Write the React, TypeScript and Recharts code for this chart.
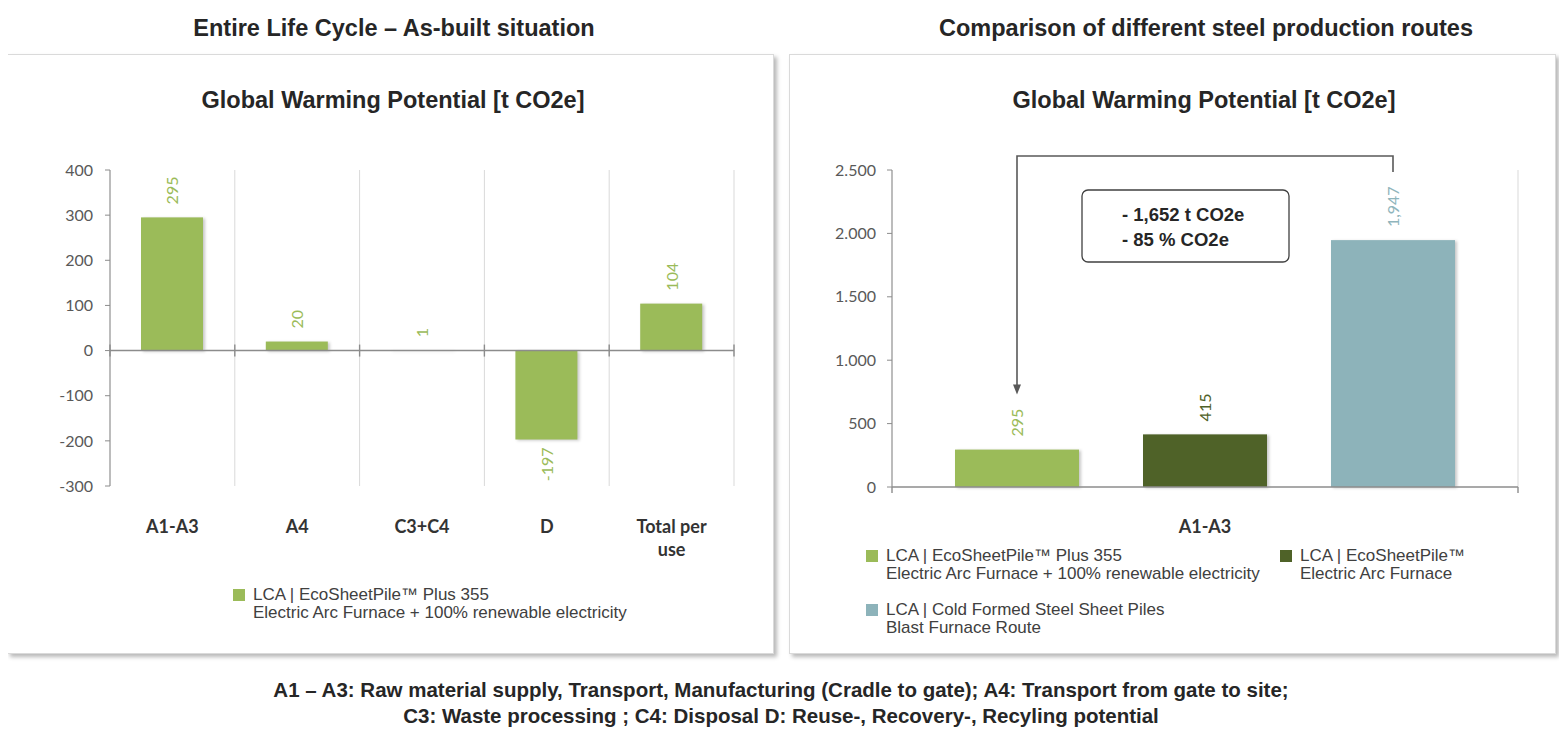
import React from "react";
import {
  BarChart,
  Bar,
  XAxis,
  YAxis,
  CartesianGrid,
  ReferenceLine,
  Customized,
} from "recharts";

// left chart: entire life cycle
const stages = ["A1-A3", "A4", "C3+C4", "D", "Total per use"];
const stageValues = [295, 20, 1, -197, 104];
const stageTicks = [-300, -200, -100, 0, 100, 200, 300, 400];

// right chart: steel production routes
const routeCategories = ["A1-A3"];
const ecoPlusValues = [295];
const ecoValues = [415];
const coldFormedValues = [1947];
const routeTicks = [0, 500, 1000, 1500, 2000, 2500];
const savingLines = ["- 1,652 t CO2e", "- 85 % CO2e"];

const routeSeries = [
  { key: "ecoPlus", values: ecoPlusValues, color: "#9BBB59", labelColor: "#9BBB59", title: "LCA | EcoSheetPile™ Plus 355", sub: "Electric Arc Furnace + 100% renewable electricity" },
  { key: "eco", values: ecoValues, color: "#4F6228", labelColor: "#4F6228", title: "LCA | EcoSheetPile™", sub: "Electric Arc Furnace" },
  { key: "cold", values: coldFormedValues, color: "#8DB3BA", labelColor: "#8FB5BC", title: "LCA | Cold Formed Steel Sheet Piles", sub: "Blast Furnace Route" },
];

const GREEN = "#9BBB59";
const AXIS = "#8c8c8c";
const GRID = "#d9d9d9";
const NARROW = "'Liberation Sans Narrow', 'Liberation Sans', Arial, sans-serif";
const SANS = "'Liberation Sans', Arial, sans-serif";
const LABEL_FONT = "Lato, 'Open Sans', sans-serif";

const stageRows = stages.map((name, i) => ({ name, value: stageValues[i] }));
const routeRows = routeCategories.map((name, i) => {
  const row: Record<string, string | number> = { name };
  routeSeries.forEach((s) => (row[s.key] = s.values[i]));
  return row;
});

const dotThousands = (v: number) =>
  Math.abs(v) >= 1000 ? `${Math.floor(v / 1000)}.${String(v % 1000).padStart(3, "0")}` : String(v);
const commaThousands = (v: number) =>
  Math.abs(v) >= 1000 ? `${Math.floor(v / 1000)},${String(v % 1000).padStart(3, "0")}` : String(v);

// chart geometry (both charts live in a 767x600 panel)
const L = { w: 768, h: 600, margin: { top: 116, right: 41, bottom: 108, left: 43 }, yW: 60, xH: 60 };
const R = { w: 767, h: 600, margin: { top: 116, right: 38, bottom: 117, left: 43 }, yW: 60, xH: 50 };
const plotOf = (c: typeof L) => ({
  left: c.margin.left + c.yW,
  top: c.margin.top,
  width: c.w - c.margin.left - c.yW - c.margin.right,
  height: c.h - c.margin.top - c.margin.bottom - c.xH,
});
const lPlot = plotOf(L);
const rPlot = plotOf(R);
const R_BAR = 124;
const R_GAP = 64;

const boundaries = (p: { left: number; width: number }, n: number) =>
  Array.from({ length: n + 1 }, (_, i) => p.left + (i * p.width) / n);

// short tick marks where the category boundaries cross the zero line
const BoundaryTicks = ({ xs, y, up, down }: { xs: number[]; y: number; up: number; down: number }) => (
  <g>
    {xs.map((x, i) => (
      <line key={i} x1={x} x2={x} y1={y - up} y2={y + down} stroke={AXIS} strokeWidth={1.4} />
    ))}
  </g>
);

const ShadowBar = (p: any) => {
  const top = Math.min(p.y, p.y + p.height);
  const h = Math.abs(p.height);
  return (
    <rect
      x={p.x}
      y={top}
      width={p.width}
      height={h}
      fill={p.fill}
      style={{ filter: "drop-shadow(2px 1px 1.5px rgba(0,0,0,0.22))" }}
    />
  );
};

const vLabel = (color: string, fmt: (v: number) => string) => (p: any) => {
  const { x, y, width, height, value } = p;
  const top = Math.min(y, y + height);
  const bottom = Math.max(y, y + height);
  const cx = x + width / 2;
  const neg = value < 0;
  const ay = neg ? bottom + 8 : top - 13;
  return (
    <text
      x={cx}
      y={ay}
      transform={`rotate(-90 ${cx} ${ay})`}
      textAnchor={neg ? "end" : "start"}
      dominantBaseline="central"
      fill={color}
      fontSize={16}
      fontFamily={LABEL_FONT}
    >
      {fmt(value)}
    </text>
  );
};

const wrapWords = (s: string, max: number) => {
  const out: string[] = [];
  s.split(" ").forEach((w) => {
    const last = out[out.length - 1];
    if (last && (last + " " + w).length <= max) out[out.length - 1] = last + " " + w;
    else out.push(w);
  });
  return out;
};

const CategoryTick = (dy: number) => (p: any) => {
  const { x, y, payload } = p;
  const lines = wrapWords(String(payload.value), 9);
  return (
    <text x={x} y={y + dy} textAnchor="middle" fontFamily={LABEL_FONT} fontWeight={700} fontSize={18} fill="#333">
      {lines.map((l, i) => (
        <tspan key={i} x={x} dy={i === 0 ? 0 : 23}>
          {l}
        </tspan>
      ))}
    </text>
  );
};

const yTick = { fontSize: 16, fill: "#595959", fontFamily: LABEL_FONT };

// bracket + saving box for the route comparison
const Bracket = () => {
  const sum = routeSeries.length * R_BAR + (routeSeries.length - 1) * R_GAP;
  const start = rPlot.left + Math.floor((rPlot.width - sum) / 2);
  const cx = (i: number) => start + i * (R_BAR + R_GAP) + R_BAR / 2;
  const yPix = (v: number) => rPlot.top + rPlot.height * (1 - v / 2500);
  const x0 = cx(0);
  const x2 = cx(routeSeries.length - 1);
  const topY = rPlot.top - 14;
  const tipY = yPix(ecoPlusValues[0]) - 55;
  const endY = yPix(coldFormedValues[0]) - 68;
  const box = { x: rPlot.left + 190, y: rPlot.top + 20, w: 207, h: 72 };
  return (
    <g>
      <path
        d={`M${x0},${tipY - 8} L${x0},${topY} L${x2},${topY} L${x2},${endY}`}
        fill="none"
        stroke="#595959"
        strokeWidth={1.6}
      />
      <polygon points={`${x0 - 4},${tipY - 10} ${x0 + 4},${tipY - 10} ${x0},${tipY}`} fill="#595959" />
      <rect x={box.x} y={box.y} width={box.w} height={box.h} rx={6} fill="#fff" stroke="#404040" strokeWidth={1.3} />
      {savingLines.map((t, i) => (
        <text
          key={i}
          x={box.x + 40}
          y={box.y + 24 + i * 25}
          dominantBaseline="central"
          fontFamily={SANS}
          fontWeight={700}
          fontSize={18.5}
          fill="#262626"
        >
          {t}
        </text>
      ))}
    </g>
  );
};

const LegendItem = ({ x, y, color, title, sub }: { x: number; y: number; color: string; title: string; sub: string }) => (
  <div style={{ position: "absolute", left: x, top: y, display: "flex", fontFamily: NARROW, fontSize: 17, color: "#404040", lineHeight: "18px" }}>
    <div style={{ width: 12, height: 12, background: color, marginTop: 3, marginRight: 8 }} />
    <div style={{ whiteSpace: "nowrap" }}>
      <div>{title}</div>
      <div>{sub}</div>
    </div>
  </div>
);

const panelStyle = (left: number): React.CSSProperties => ({
  position: "absolute",
  left,
  top: 54,
  width: 767,
  height: 600,
  border: "1px solid #dadada",
  boxShadow: "3px 3px 4px rgba(0,0,0,0.28)",
  background: "#fff",
  boxSizing: "border-box",
});

const heading = (cx: number, centerY: number, size: number, family: string, text: string) => (
  <div
    style={{
      position: "absolute",
      left: cx - 400,
      width: 800,
      top: centerY - 15,
      height: 30,
      lineHeight: "30px",
      textAlign: "center",
      fontFamily: family,
      fontWeight: 700,
      fontSize: size,
      color: "#262626",
      whiteSpace: "nowrap",
    }}
  >
    {text}
  </div>
);

export default function App() {
  return (
    <div style={{ position: "relative", width: 1567, height: 738, margin: "-8px 0 0 -8px", background: "#fff", overflow: "hidden" }}>
      {heading(394, 28, 23.5, NARROW, "Entire Life Cycle – As-built situation")}
      {heading(1206, 28, 23.5, NARROW, "Comparison of different steel production routes")}

      <div style={panelStyle(7)} />
      <div style={panelStyle(789)} />

      {heading(393, 100, 23.5, SANS, "Global Warming Potential [t CO2e]")}
      {heading(1204, 100, 23.5, SANS, "Global Warming Potential [t CO2e]")}

      <div style={{ position: "absolute", left: 7, top: 54 }}>
        <BarChart width={L.w} height={L.h} data={stageRows} margin={L.margin}>
          <CartesianGrid horizontal={false} stroke={GRID} verticalPoints={boundaries(lPlot, stages.length)} />
          <XAxis dataKey="name" axisLine={false} tickLine={false} tickSize={0} height={L.xH} interval={0} tick={CategoryTick(45)} />
          <YAxis
            width={L.yW}
            domain={[-300, 400]}
            ticks={stageTicks}
            interval={0}
            stroke={AXIS}
            tickSize={5}
            tickMargin={12}
            tick={yTick}
          />
          <ReferenceLine y={0} stroke={AXIS} strokeWidth={1.6} />
          <Customized
            component={
              <BoundaryTicks xs={boundaries(lPlot, stages.length)} y={lPlot.top + (lPlot.height * 400) / 700} up={6} down={6} />
            }
          />
          <Bar dataKey="value" fill={GREEN} barSize={62} isAnimationActive={false} shape={ShadowBar} label={vLabel(GREEN, String)} />
        </BarChart>
      </div>

      <div style={{ position: "absolute", left: 789, top: 54 }}>
        <BarChart width={R.w} height={R.h} data={routeRows} margin={R.margin} barGap={R_GAP}>
          <CartesianGrid horizontal={false} stroke={GRID} verticalPoints={boundaries(rPlot, routeCategories.length)} />
          <XAxis dataKey="name" stroke={AXIS} strokeWidth={1.6} tickLine={false} tickSize={0} height={R.xH} tick={CategoryTick(44)} />
          <YAxis
            width={R.yW}
            domain={[0, 2500]}
            ticks={routeTicks}
            interval={0}
            stroke={AXIS}
            tickSize={5}
            tickMargin={11}
            tick={yTick}
            tickFormatter={dotThousands}
          />
          <Customized
            component={
              <BoundaryTicks xs={boundaries(rPlot, routeCategories.length)} y={rPlot.top + rPlot.height} up={0} down={6} />
            }
          />
          {routeSeries.map((s) => (
            <Bar
              key={s.key}
              dataKey={s.key}
              fill={s.color}
              barSize={R_BAR}
              isAnimationActive={false}
              shape={ShadowBar}
              label={vLabel(s.labelColor, commaThousands)}
            />
          ))}
          <Customized component={<Bracket />} />
        </BarChart>
      </div>

      <LegendItem x={233} y={586} color={GREEN} title={routeSeries[0].title} sub={routeSeries[0].sub} />
      <LegendItem x={866} y={547} color={routeSeries[0].color} title={routeSeries[0].title} sub={routeSeries[0].sub} />
      <LegendItem x={1280} y={547} color={routeSeries[1].color} title={routeSeries[1].title} sub={routeSeries[1].sub} />
      <LegendItem x={866} y={601} color={routeSeries[2].color} title={routeSeries[2].title} sub={routeSeries[2].sub} />

      <div
        style={{
          position: "absolute",
          left: 0,
          width: 1562,
          top: 677,
          textAlign: "center",
          fontFamily: NARROW,
          fontWeight: 700,
          fontSize: 20.5,
          lineHeight: "26px",
          color: "#262626",
        }}
      >
        <div>A1 – A3: Raw material supply, Transport, Manufacturing (Cradle to gate); A4: Transport from gate to site;</div>
        <div>C3: Waste processing ; C4: Disposal D: Reuse-, Recovery-, Recyling potential</div>
      </div>
    </div>
  );
}
